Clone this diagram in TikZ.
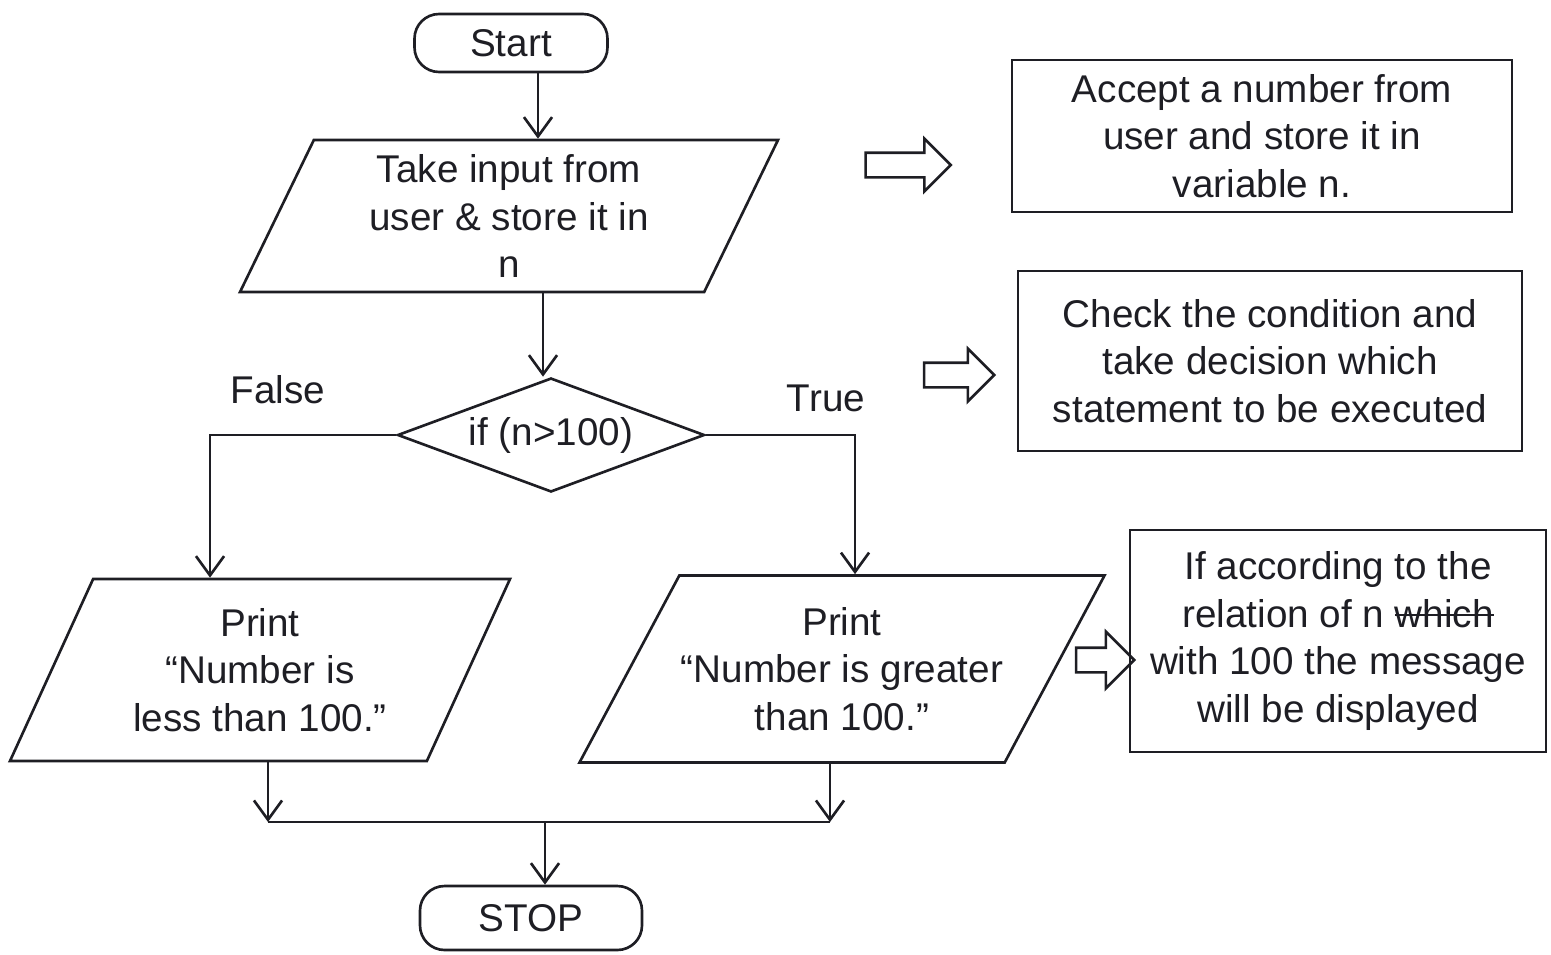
\documentclass[tikz,border=0pt]{standalone}
\usepackage{fontspec}
\setmainfont{Liberation Sans}
\usetikzlibrary{arrows.meta,shapes.geometric,shapes.arrows,calc}
\definecolor{ink}{RGB}{30,30,36}
\newcommand\pxu{0.02cm}
% a word with a line drawn through it
\newcommand\strikeword[1]{\leavevmode\setbox0\hbox{#1}\rlap{\rule[0.3em]{\wd0}{1.2pt}}\box0}
\begin{document}
\begin{tikzpicture}[x=0.02cm,y=-0.02cm,
  every node/.style={text=ink},
  base/.style={draw=ink,line width=1.5pt,font=\fontsize{22}{27}\selectfont,align=center,inner sep=0pt},
  term/.style={base,rectangle,rounded corners=14pt},
  io/.style={base,trapezium,trapezium stretches body},
  decision/.style={base,diamond},
  note/.style={base,rectangle},
  hollow/.style={draw=ink,line width=1.5pt,single arrow,inner xsep=0pt,inner ysep=11*\pxu,
                 single arrow head indent=0pt},
  flow/.style={draw=ink,line width=1.5pt,-{Straight Barb[length=11pt,width=16pt,line width=1.5pt]}},
  line/.style={draw=ink,line width=1.5pt},
  lbl/.style={font=\fontsize{22}{27}\selectfont}]
\useasboundingbox (0,0) rectangle (1551,954);

% main flow
\node[term,minimum width=193*\pxu,minimum height=58*\pxu] (start) at (511,43) {Start};
\node[io,trapezium left angle=59,trapezium right angle=121,
      minimum width=538*\pxu,minimum height=152*\pxu] (input) at (509,216)
      {Take input from\\user \& store it in\\n};
\node[decision,minimum width=307*\pxu,minimum height=114*\pxu,
      label={[lbl]center:if (n>100)}] (dec) at (551,435) {};
\node[io,trapezium left angle=56,trapezium right angle=124,
      minimum width=500*\pxu,minimum height=182*\pxu] (lp) at (260,670)
      {Print\\“Number is\\less than 100.”};
\node[io,trapezium left angle=51,trapezium right angle=129,
      minimum width=525*\pxu,minimum height=187*\pxu] (rp) at (842,669)
      {Print\\“Number is greater\\than 100.”};
\node[term,minimum width=222*\pxu,minimum height=64*\pxu] (stop) at (531,918) {STOP};

% branch labels
\node[lbl] (lfalse) at (278,390) {False};
\node[lbl] (ltrue) at (826,398) {True};

% merge points
\coordinate (ml) at (268,822);
\coordinate (mr) at (830,822);
\coordinate (mm) at (545,822);

% connectors
\draw[flow] ([xshift=27*\pxu]start.south) -- ([xshift=27*\pxu]start.south |- input.north);
\draw[flow] ([xshift=-8*\pxu]dec.north |- input.south) -- ([xshift=-8*\pxu]dec.north);
\draw[flow] (dec.west) -| ($(lp.north)+(-50,0)$);
\draw[flow] (dec.east) -| ($(rp.north)+(13,0)$);
\draw[flow] (ml |- lp.south) -- (ml);
\draw[flow] (mr |- rp.south) -- (mr);
\draw[line] (ml) -- (mr);
\draw[flow] (mm) -- (mm |- stop.north);

% explanations
\node[note,minimum width=500*\pxu,minimum height=152*\pxu] (n1) at (1262,136)
  {Accept a number from\\user and store it in\\variable n.};
\node[note,minimum width=504*\pxu,minimum height=180*\pxu] (n2) at (1270,361)
  {Check the condition and\\take decision which\\statement to be executed};
\node[note,minimum width=416*\pxu,minimum height=222*\pxu] (n3) at (1338,641)
  {If according to the\\relation of n \strikeword{which}\\with 100 the message\\will be displayed};

% pointer arrows
\node[hollow,minimum height=85*\pxu,single arrow head extend=14*\pxu] (a1) at (902,165) {};
\node[hollow,minimum height=70*\pxu,single arrow head extend=14*\pxu] (a2) at (953,375) {};
\node[hollow,minimum height=58*\pxu,single arrow head extend=16*\pxu] (a3) at (1099,660) {};
\end{tikzpicture}
\end{document}
